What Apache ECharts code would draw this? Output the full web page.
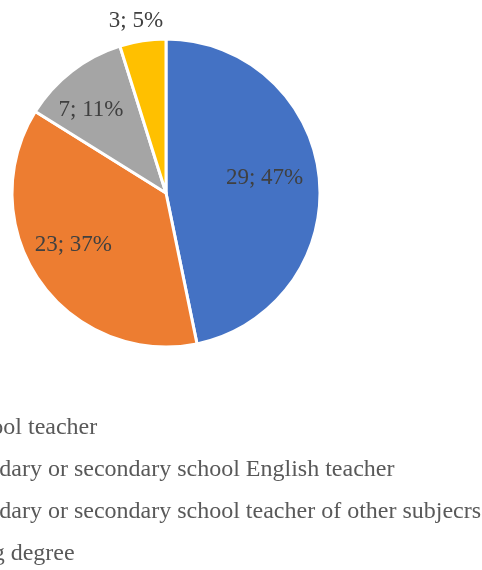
<!DOCTYPE html>
<html>
<head>
<meta charset="utf-8">
<script src="https://cdn.jsdelivr.net/npm/echarts@6/dist/echarts.min.js"></script>
<style>
  html, body { margin: 0; padding: 0; background: #fff; overflow: hidden; }
  #chart { width: 482px; height: 570px; }
</style>
</head>
<body>
<div id="chart"></div>
<script>
// categories and values
var categories = [
  "Primary school teacher",
  "Lower secondary or secondary school English teacher",
  "Lower secondary or secondary school teacher of other subjecrs",
  "Still studying degree"
];
var counts = [29, 23, 7, 3];
var percents = [47, 37, 11, 5];

// slice colours
var colors = ["#4472C4", "#ED7D31", "#A5A5A5", "#FFC000"];
// label nudges from the default inside spot
var labelDx = [19, -27, -26, -18];
var labelDy = [-7, 6, -20, -93];

var chart = echarts.init(document.getElementById("chart"));

var pieData = categories.map(function (name, i) {
  return { name: name, value: counts[i], pct: percents[i] };
});

chart.setOption({
  animation: false,
  color: colors,
  legend: {
    orient: "vertical",
    left: -140,
    top: 416,
    padding: 0,
    itemWidth: 10,
    itemHeight: 10,
    itemGap: 18,
    icon: "rect",
    textStyle: {
      fontFamily: "Liberation Serif",
      fontSize: 24,
      color: "#595959"
    },
    data: categories
  },
  series: [
    {
      type: "pie",
      center: [166, 193],
      radius: 154,
      startAngle: 90,
      clockwise: true,
      itemStyle: {
        borderColor: "#fff",
        borderWidth: 3
      },
      label: {
        show: true,
        position: "inside",
        fontFamily: "Liberation Serif",
        fontSize: 23,
        color: "#404040",
        formatter: function (p) {
          return p.value + "; " + p.data.pct + "%";
        }
      },
      labelLine: { show: false },
      labelLayout: function (params) {
        return { dx: labelDx[params.dataIndex], dy: labelDy[params.dataIndex] };
      },
      data: pieData
    }
  ]
});
</script>
</body>
</html>
